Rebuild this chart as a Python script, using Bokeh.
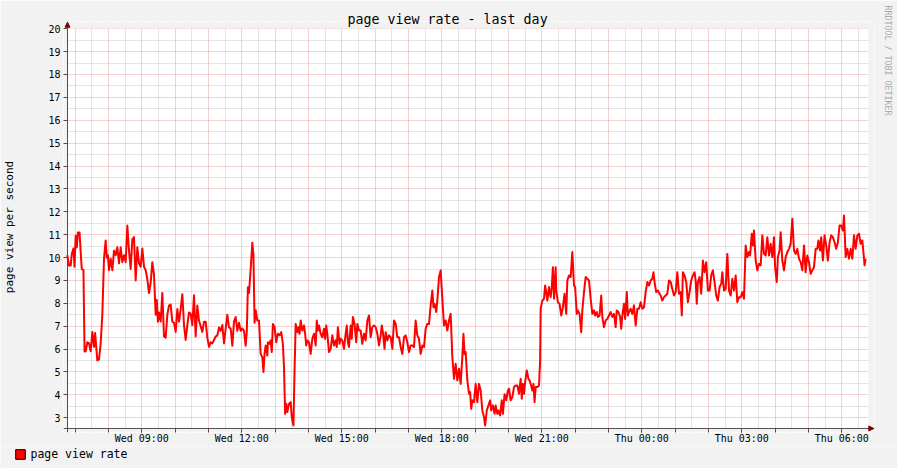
import datetime as dt
from bokeh.plotting import figure
from bokeh.layouts import column
from bokeh.models import (FixedTicker, DatetimeTickFormatter, Legend, LegendItem,
                          Range1d, LinearAxis, Title, BoxAnnotation, Span, Arrow, NormalHead)
from bokeh.embed import file_html
from bokeh.resources import INLINE

# ---------------- data ----------------
# sample times, minutes after Wednesday 00:00
minutes = [
    406, 409, 412, 414, 417, 419, 421, 423, 425, 428,
    430, 432, 435, 437, 439, 442, 445, 448, 451, 454,
    456, 460, 463, 466, 469, 472, 475, 477, 479, 481,
    484, 487, 490, 493, 496, 499, 502, 505, 508, 511,
    514, 517, 520, 523, 526, 529, 532, 535, 538, 541,
    544, 547, 550, 553, 556, 559, 562, 565, 567, 569,
    571, 574, 577, 580, 583, 586, 589, 592, 595, 598,
    601, 604, 607, 610, 613, 616, 619, 622, 625, 628,
    631, 634, 637, 640, 643, 646, 649, 652, 655, 658,
    661, 664, 667, 670, 673, 676, 679, 682, 685, 688,
    691, 694, 697, 700, 703, 706, 709, 712, 715, 718,
    721, 724, 727, 729, 731, 733, 736, 739, 741, 743,
    745, 748, 751,
    754, 757, 759, 761, 763, 766, 767, 770, 772, 774,
    776, 779, 782, 785, 788, 791, 794, 796, 798, 800,
    802, 805, 808, 810, 813, 815, 817, 820, 822, 824,
    826, 829, 832, 834, 836, 838, 841, 844, 847, 850,
    853, 855, 857, 859, 862, 865, 868, 870, 872, 874,
    877, 880, 883, 886, 889, 891, 893, 896, 898, 901,
    904, 907, 909, 911, 913, 916, 918, 920, 923, 926,
    928, 931, 934, 937, 940, 943, 946, 949, 952, 955,
    958, 961, 964, 967, 970, 972, 974, 977, 979, 982,
    985, 988, 991, 994, 997, 1000, 1003, 1006, 1009, 1012,
    1015, 1018, 1021, 1024, 1027, 1030, 1033, 1036, 1039, 1042,
    1045, 1048, 1051, 1054, 1057, 1060, 1063, 1065, 1067, 1070,
    1072, 1075, 1078, 1081, 1084, 1087, 1090, 1093, 1096, 1099,
    1102, 1105, 1108, 1111,
    1114, 1117, 1119, 1121, 1123, 1126, 1129, 1131, 1133, 1135,
    1138, 1141, 1144, 1147, 1150, 1153, 1156, 1158, 1161, 1164,
    1167, 1169, 1172, 1175, 1177, 1180, 1182, 1185, 1188, 1190,
    1193, 1196, 1199, 1201, 1204, 1207, 1210, 1213, 1216, 1219,
    1222, 1224, 1226, 1228, 1230, 1233, 1236, 1238, 1240, 1243,
    1245, 1247, 1249, 1252, 1255, 1257, 1258, 1261, 1264, 1266,
    1268, 1270, 1273, 1276, 1278, 1280, 1282, 1285, 1286, 1289,
    1292, 1295, 1298, 1301, 1304, 1306, 1309, 1312, 1315, 1318,
    1320, 1323, 1325, 1328, 1331, 1333, 1336, 1339, 1342, 1345,
    1348, 1351, 1354, 1356, 1359, 1361, 1364, 1367, 1369, 1372,
    1375, 1378, 1381, 1384, 1387, 1390, 1393, 1395, 1398, 1401,
    1403, 1405, 1408, 1410, 1413, 1415, 1417, 1420, 1423, 1426,
    1429, 1432, 1435, 1438, 1441, 1444, 1447, 1450, 1453, 1456,
    1459, 1461, 1463, 1466, 1469, 1472,
    1474, 1477, 1480, 1483, 1486, 1489, 1492, 1495, 1498, 1501,
    1504, 1507, 1510, 1512, 1514, 1517, 1520, 1523, 1526, 1529,
    1532, 1535, 1537, 1539, 1541, 1544, 1547, 1550, 1553, 1556,
    1559, 1562, 1565, 1568, 1571, 1574, 1577, 1580, 1583, 1585,
    1588, 1591, 1594, 1597, 1600, 1603, 1606, 1609, 1612, 1615,
    1618, 1621, 1624, 1627, 1630, 1633, 1635, 1638, 1640, 1642,
    1645, 1648, 1651, 1654, 1657, 1660, 1663, 1666, 1669, 1672,
    1675, 1678, 1680, 1683, 1685, 1688, 1690, 1693, 1696, 1699,
    1702, 1705, 1708, 1711, 1714, 1717, 1720, 1723, 1726, 1729,
    1732, 1735, 1738, 1741, 1744, 1747, 1750, 1753, 1756, 1758,
    1761, 1763, 1766, 1769, 1772, 1775, 1778, 1781, 1784, 1787,
    1790, 1793, 1796, 1799, 1802, 1804, 1807, 1810, 1813, 1816,
    1819, 1822, 1825, 1828, 1831, 1834, 1837, 1840, 1841, 1843,
]

# page views per second
rate = [
    10.1, 9.65, 9.65, 10.15, 10.4, 9.6, 10.95, 10.45, 11.1, 11.1,
    10.25, 9.5, 9.45, 5.9, 5.9, 6.3, 6.25, 5.9, 6.75, 6.1,
    6.7, 5.5, 5.55, 6.25, 7.5, 9.95, 10.75, 10.0, 10.1, 9.45,
    9.95, 9.45, 10.3, 10.1, 10.45, 9.75, 10.45, 9.8, 10.1, 9.8,
    11.4, 10.3, 9.5, 10.8, 10.9, 9.0, 10.45, 9.75, 9.6, 10.4,
    9.6, 9.45, 9.05, 8.45, 8.9, 9.8, 9.25, 7.5, 8.15, 7.2,
    7.6, 7.2, 8.45, 6.55, 6.5, 7.5, 7.9, 7.95, 7.2, 7.15,
    6.75, 7.75, 7.2, 7.75, 8.4, 7.05, 6.4, 7.05, 7.6, 7.55,
    7.05, 8.35, 6.55, 7.9, 7.25, 7.0, 6.75, 7.2, 7.2, 6.5,
    6.1, 6.3, 6.25, 6.4, 6.55, 6.6, 6.95, 6.8, 7.05, 6.25,
    6.9, 7.5, 6.95, 6.9, 6.15, 7.2, 7.4, 6.8, 7.15, 6.8,
    6.9, 6.8, 6.15, 6.75, 8.7, 8.45, 9.5, 10.65, 10.1, 7.15,
    7.7, 7.25, 7.25,
    5.79, 5.65, 5.0, 5.79, 6.16, 5.72, 6.3, 6.23, 6.38, 5.87,
    7.1, 6.96, 6.3, 6.67, 6.6, 6.74, 6.23, 5.21, 3.17, 3.61,
    3.25, 3.61, 3.68, 3.03, 2.66, 5.07, 7.1, 6.74, 6.96, 6.67,
    7.25, 6.81, 7.03, 6.67, 6.16, 6.38, 6.3, 5.79, 6.45, 6.67,
    6.16, 7.25, 6.81, 7.03, 6.67, 6.52, 6.89, 6.45, 7.03, 6.67,
    5.87, 6.01, 6.6, 6.16, 6.38, 6.09, 6.96, 6.23, 6.45, 6.38,
    6.01, 6.67, 7.03, 6.3, 6.09, 7.03, 6.45, 7.4, 7.1, 6.3,
    7.1, 6.81, 6.81, 6.23, 6.67, 6.38, 7.25, 7.47, 6.52, 6.96,
    7.03, 6.96, 6.67, 6.16, 6.6, 7.03, 6.74, 6.01, 6.74, 6.38,
    6.6, 6.52, 6.01, 7.25, 7.1, 6.52, 6.52, 6.09, 5.79, 6.52,
    6.6, 6.3, 5.87, 6.16, 6.16, 6.09, 7.25, 6.6, 6.45, 5.79,
    6.16, 6.09, 6.89, 7.1, 7.1, 7.91, 8.56, 7.83, 7.98, 7.62,
    8.12, 9.15, 9.44, 8.2, 7.03, 7.25, 6.81, 7.25, 7.54, 5.65,
    4.7, 5.36, 4.63, 5.14,
    4.48, 5.65, 6.67, 5.79, 5.87, 4.63, 4.05, 4.12, 3.39, 3.76,
    3.68, 4.48, 3.68, 4.48, 4.19, 3.32, 3.03, 2.66, 3.32, 3.54,
    3.76, 3.32, 3.54, 3.17, 3.54, 3.17, 3.32, 3.1, 3.76, 3.17,
    4.03, 3.76, 4.19, 4.27, 3.76, 3.9, 4.34, 4.41, 4.41, 4.05,
    4.7, 3.83, 4.48, 4.05, 4.56, 5.07, 4.7, 4.63, 4.48, 4.19,
    4.48, 3.68, 4.34, 4.34, 4.41, 5.5, 7.76, 8.12, 8.2, 8.78,
    8.49, 8.12, 8.71, 8.27, 8.71, 9.58, 8.2, 9.58, 8.56, 8.05,
    7.98, 7.47, 7.83, 8.42, 7.54, 9.0, 9.22, 9.15, 10.24, 8.78,
    8.71, 7.54, 7.69, 7.54, 6.74, 7.69, 8.49, 9.15, 9.07, 9.0,
    8.2, 7.54, 7.69, 7.47, 7.62, 7.4, 7.47, 8.34, 7.4, 6.96,
    7.25, 7.32, 7.47, 7.62, 7.4, 7.54, 6.96, 7.69, 7.62, 7.4,
    6.89, 7.47, 7.98, 7.32, 8.49, 7.47, 7.62, 7.76, 7.54, 7.91,
    7.03, 7.76, 7.76, 8.05, 7.76, 7.83, 8.49, 8.93, 8.78, 9.0,
    9.07, 9.36, 8.93, 8.49, 8.56, 8.42,
    8.34, 8.12, 8.27, 8.34, 8.42, 9.0, 8.93, 8.63, 8.34, 8.49,
    9.36, 8.42, 8.49, 7.47, 9.36, 9.22, 8.93, 8.05, 8.49, 9.0,
    9.22, 9.36, 9.0, 7.98, 8.93, 9.15, 8.42, 9.87, 9.36, 9.8,
    8.56, 8.56, 9.22, 9.44, 8.93, 8.34, 8.12, 8.71, 8.85, 9.36,
    8.56, 8.63, 10.16, 8.56, 8.34, 9.07, 8.56, 9.22, 8.05, 8.27,
    8.27, 8.49, 8.2, 10.53, 10.02, 10.24, 10.09, 11.04, 10.53, 11.18,
    9.87, 9.44, 9.73, 9.66, 10.97, 10.16, 10.09, 10.89, 10.09, 10.6,
    10.02, 10.89, 9.58, 8.93, 10.02, 10.31, 11.11, 9.87, 9.44, 10.02,
    10.24, 10.38, 10.6, 11.7, 10.31, 10.16, 10.38, 9.95, 9.8, 9.44,
    10.53, 9.36, 10.09, 9.8, 9.29, 9.44, 9.58, 10.38, 10.38, 10.75,
    10.31, 10.89, 9.87, 10.97, 10.53, 9.87, 10.67, 10.97, 10.89, 10.67,
    10.38, 10.67, 11.4, 11.4, 11.18, 11.84, 10.02, 10.38, 9.95, 10.38,
    9.95, 10.97, 10.38, 10.97, 11.04, 10.6, 10.75, 9.95, 9.66, 9.95,
]

title_text = "page view rate - last day"
y_label = "page view per second"
series_name = "page view rate"
watermark = "RRDTOOL / TOBI OETIKER"
y_ticks = list(range(3, 21))
x_label_minutes = [540, 720, 900, 1080, 1260, 1440, 1620, 1800]   # every 3 h
# graph canvas extent (time in minutes, value)
x_start_min, x_end_min = 406.3, 1848.1
y_min, y_max = 2.53, 20.01

assert len(minutes) == len(rate)

# ---------------- helpers ----------------
base = dt.datetime(2024, 1, 3)   # a Wednesday
epoch = dt.datetime(1970, 1, 1)
base_ms = (base - epoch).total_seconds() * 1000.0


def ms(m):
    return base_ms + m * 60000.0


MIN_PER_PX = 1.8      # 24 h over 800 px
VAL_PER_PX = 1 / 22.88

xs = [ms(m) for m in minutes]
hour_ms = [ms(h * 60) for h in range(7, 31)]
half_ms = [ms(h * 60 + 30) for h in range(6, 31)]
label_ms = [ms(m) for m in x_label_minutes]
y_half = [v + 0.5 for v in range(2, 20)]

MONO = "DejaVu Sans Mono"
BG = "#f2f2f2"
AXIS_COL = "#505050"
ARROW_COL = "#800000"
MAJ_GRID = "#e8a4a4"
MIN_GRID = "#cacaca"

W = 897
MAIN_H = 446
LEG_H = 22

# the frame is a few pixels larger than the white canvas so that the axis
# arrows (which stick out of the canvas) can be drawn
pad_l, pad_r, pad_t, pad_b = 4, 6, 7, 4
p = figure(width=W, height=MAIN_H, x_axis_type="datetime",
           x_range=Range1d(ms(x_start_min - pad_l * MIN_PER_PX), ms(x_end_min + pad_r * MIN_PER_PX)),
           y_range=Range1d(y_min - pad_b * VAL_PER_PX, y_max + pad_t * VAL_PER_PX),
           output_backend="svg", toolbar_location=None,
           min_border_left=63, min_border_right=23,
           min_border_top=21, min_border_bottom=14)
p.frame_align = False

p.background_fill_color = "white"
p.border_fill_color = BG
p.outline_line_color = None

# title
p.title.text = title_text
p.title.text_font = MONO
p.title.text_font_size = "13.3px"
p.title.text_font_style = "normal"
p.title.text_color = "#000000"
p.title.align = "left"
p.title.offset = 284
p.title.standoff = -10
p.title.vertical_align = "bottom"

# grids
p.xgrid.ticker = FixedTicker(ticks=hour_ms, minor_ticks=half_ms)
p.ygrid.ticker = FixedTicker(ticks=y_ticks, minor_ticks=y_half)
for g in (p.xgrid, p.ygrid):
    g.grid_line_color = MAJ_GRID
    g.grid_line_dash = "1 1"
    g.grid_line_width = 1
    g.minor_grid_line_color = MIN_GRID
    g.minor_grid_line_dash = "1 1"
    g.minor_grid_line_width = 1

# grey margins between the white canvas and the frame edge
for kw in (dict(right=ms(x_start_min)), dict(left=ms(x_end_min)),
           dict(top=y_min), dict(bottom=y_max)):
    p.add_layout(BoxAnnotation(fill_color=BG, fill_alpha=1.0, line_color=None,
                               level="underlay", **kw))

# axis lines at the canvas edges
p.add_layout(Span(location=ms(x_start_min), dimension="height",
                  line_color=AXIS_COL, line_width=1, level="underlay"))
p.add_layout(Span(location=y_min, dimension="width",
                  line_color=AXIS_COL, line_width=1, level="underlay"))

# axes
xa = p.xaxis[0]
xa.ticker = FixedTicker(ticks=label_ms, minor_ticks=hour_ms)
fmt = "%a %H:%M"
xa.formatter = DatetimeTickFormatter(hours=fmt, hourmin=fmt, days=fmt, minutes=fmt,
                                     minsec=fmt, seconds=fmt, months=fmt, years=fmt)
xa.major_label_text_font = MONO
xa.major_label_text_font_size = "10px"
xa.major_label_text_color = "#000000"
xa.major_label_standoff = 0
xa.major_tick_out = 0
xa.major_tick_in = 4
xa.minor_tick_out = 0
xa.minor_tick_in = 4
xa.axis_line_color = None
xa.major_tick_line_color = AXIS_COL
xa.minor_tick_line_color = AXIS_COL

ya = p.yaxis[0]
ya.ticker = FixedTicker(ticks=y_ticks)
ya.major_label_text_font = MONO
ya.major_label_text_font_size = "10px"
ya.major_label_text_color = "#000000"
ya.major_label_standoff = 3
ya.major_tick_out = 0
ya.major_tick_in = 4
ya.minor_tick_out = 0
ya.minor_tick_in = 0
ya.axis_line_color = None
ya.major_tick_line_color = AXIS_COL
ya.minor_tick_line_color = None
ya.axis_label = y_label
ya.axis_label_text_font = MONO
ya.axis_label_text_font_size = "11px"
ya.axis_label_text_font_style = "normal"
ya.axis_label_text_color = "#000000"
ya.axis_label_standoff = 29

# data line
line_r = p.line(xs, rate, line_color="#ff0000", line_width=2, line_join="round")

# axis arrow heads
p.add_layout(Arrow(end=NormalHead(size=5, fill_color=ARROW_COL, line_color=ARROW_COL, line_width=1),
                   x_start=ms(x_end_min), y_start=y_min,
                   x_end=ms(x_end_min + 5.3 * MIN_PER_PX), y_end=y_min,
                   line_alpha=0))
p.add_layout(Arrow(end=NormalHead(size=5, fill_color=ARROW_COL, line_color=ARROW_COL, line_width=1),
                   x_start=ms(x_start_min), y_start=y_max,
                   x_end=ms(x_start_min), y_end=y_max + 6.3 * VAL_PER_PX,
                   line_alpha=0))

# spacer axis on the right, then the vertical watermark beyond it
spacer = LinearAxis(ticker=FixedTicker(ticks=[10]), major_tick_out=8, major_tick_in=0,
                    minor_tick_out=0, minor_tick_in=0, axis_line_color=None,
                    major_tick_line_color=None, minor_tick_line_color=None,
                    major_label_standoff=0, major_label_text_font_size="0px",
                    major_label_text_color=None)
p.add_layout(spacer, "right")
p.add_layout(Title(text=watermark, align="left", offset=-16, standoff=0,
                   vertical_align="bottom", text_font=MONO, text_font_size="8.3px",
                   text_font_style="normal", text_color="#aaaaaa"), "right")

# ---------------- legend strip below the graph ----------------
lg = figure(width=W, height=LEG_H, x_range=Range1d(0, 1), y_range=Range1d(0, 1),
            x_axis_location=None, y_axis_location=None,
            output_backend="svg", toolbar_location=None,
            min_border_left=0, min_border_right=0, min_border_top=0, min_border_bottom=0)
lg.frame_align = False
lg.grid.visible = False
lg.outline_line_color = None
lg.background_fill_color = BG
lg.border_fill_color = BG
# swatch renderer for the legend (kept outside the visible range)
proxy = lg.quad(left=[5], right=[6], top=[5], bottom=[6], fill_color="#ff0000",
                line_color="#000000", line_width=1)
legend = Legend(items=[LegendItem(label=series_name, renderers=[proxy])],
                location=(13.5, 7), orientation="horizontal",
                padding=0, margin=0, spacing=0,
                border_line_color=None, background_fill_alpha=0,
                glyph_width=12, glyph_height=12, label_standoff=5,
                label_height=12, label_text_font=MONO,
                label_text_font_size="11.5px", label_text_color="#000000",
                label_text_baseline="middle")
lg.add_layout(legend)

page = column(p, lg, spacing=0)
open("out.html", "w").write(file_html(page, INLINE))
